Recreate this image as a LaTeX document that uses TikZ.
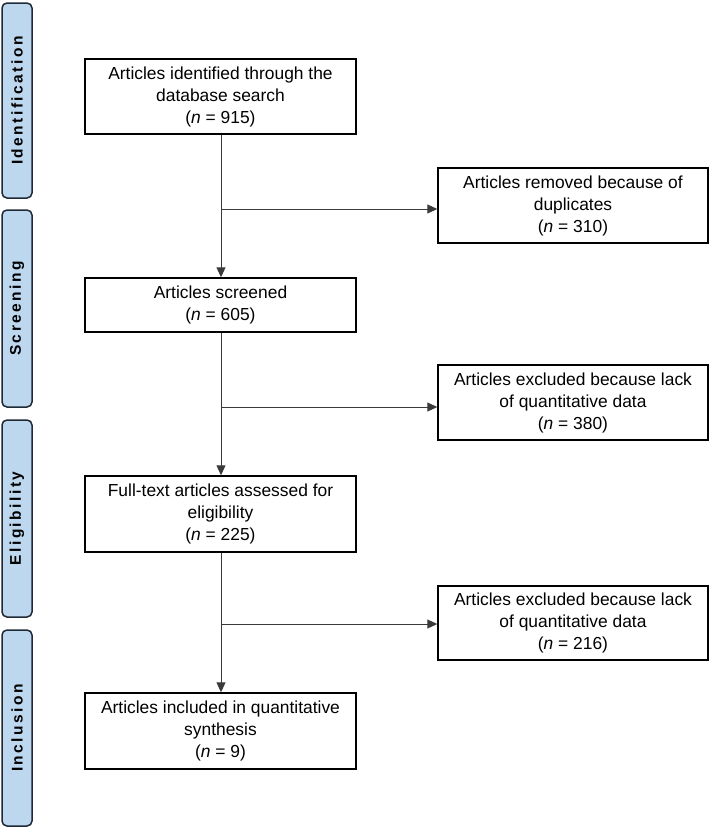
\documentclass[tikz,border=0pt]{standalone}
\usepackage{fontspec}
\setmainfont{Liberation Sans}
\newfontfamily\barfont[LetterSpace=16]{Liberation Sans}
\usetikzlibrary{arrows.meta}
\definecolor{barblue}{HTML}{BDD7EE}
\definecolor{barline}{HTML}{1F2A36}
\definecolor{conn}{HTML}{3A3A3A}
\begin{document}
\begin{tikzpicture}[x=1pt,y=-1pt,
  mainbox/.style={draw=black, line width=1.4pt, fill=white, minimum width=271pt, inner sep=0pt,
    align=center, font=\fontsize{17.4}{22}\selectfont},
  sidebox/.style={draw=black, line width=1.4pt, fill=white, minimum width=270pt, inner sep=0pt,
    align=center, font=\fontsize{17.4}{22}\selectfont},
  phase/.style={draw=barline, line width=1.5pt, fill=barblue, rounded corners=5pt,
    minimum width=30pt, inner sep=0pt, rotate=90, font=\barfont\bfseries\fontsize{15.5}{17}\selectfont},
  conn/.style={draw=conn, line width=0.9pt},
  arr/.style={conn, -{Triangle[length=10pt,width=9pt]}}
]
\useasboundingbox (0,0) rectangle (710,828);

% phase bars (rotated)
\node[phase, minimum width=195pt, minimum height=30pt] (pid) at (17,100.5) {Identification};
\node[phase, minimum width=197pt, minimum height=30pt] (psc) at (17,308.5) {Screening};
\node[phase, minimum width=197pt, minimum height=30pt] (pel) at (17,518.5) {Eligibility};
\node[phase, minimum width=196pt, minimum height=30pt] (pin) at (17,728) {Inclusion};

% main boxes
\node[mainbox, minimum height=75pt] (b1) at (220.5,96.5) {Articles identified through the\\database search\\(\textit{n} = 915)};
\node[mainbox, minimum height=54pt] (b2) at (220.5,305) {Articles screened\\(\textit{n} = 605)};
\node[mainbox, minimum height=76pt] (b3) at (220.5,514) {Full-text articles assessed for\\eligibility\\(\textit{n} = 225)};
\node[mainbox, minimum height=76pt] (b4) at (220.5,731) {Articles included in quantitative\\synthesis\\(\textit{n} = 9)};

% side boxes
\node[sidebox, minimum height=75pt] (r1) at (573,205.5) {Articles removed because of\\duplicates\\(\textit{n} = 310)};
\node[sidebox, minimum height=75pt] (r2) at (573,402.5) {Articles excluded because lack\\of quantitative data\\(\textit{n} = 380)};
\node[sidebox, minimum height=74pt] (r3) at (573,623) {Articles excluded because lack\\of quantitative data\\(\textit{n} = 216)};

% branch points
\coordinate (j1) at (221,209);
\coordinate (j2) at (221,407);
\coordinate (j3) at (221,624);

% connectors
\draw[arr] (b1.south -| j1) -- (b2.north -| j1);
\draw[arr] (b2.south -| j2) -- (b3.north -| j2);
\draw[arr] (b3.south -| j3) -- (b4.north -| j3);
\draw[arr] (j1) -- (r1.west |- j1);
\draw[arr] (j2) -- (r2.west |- j2);
\draw[arr] (j3) -- (r3.west |- j3);
\end{tikzpicture}
\end{document}
